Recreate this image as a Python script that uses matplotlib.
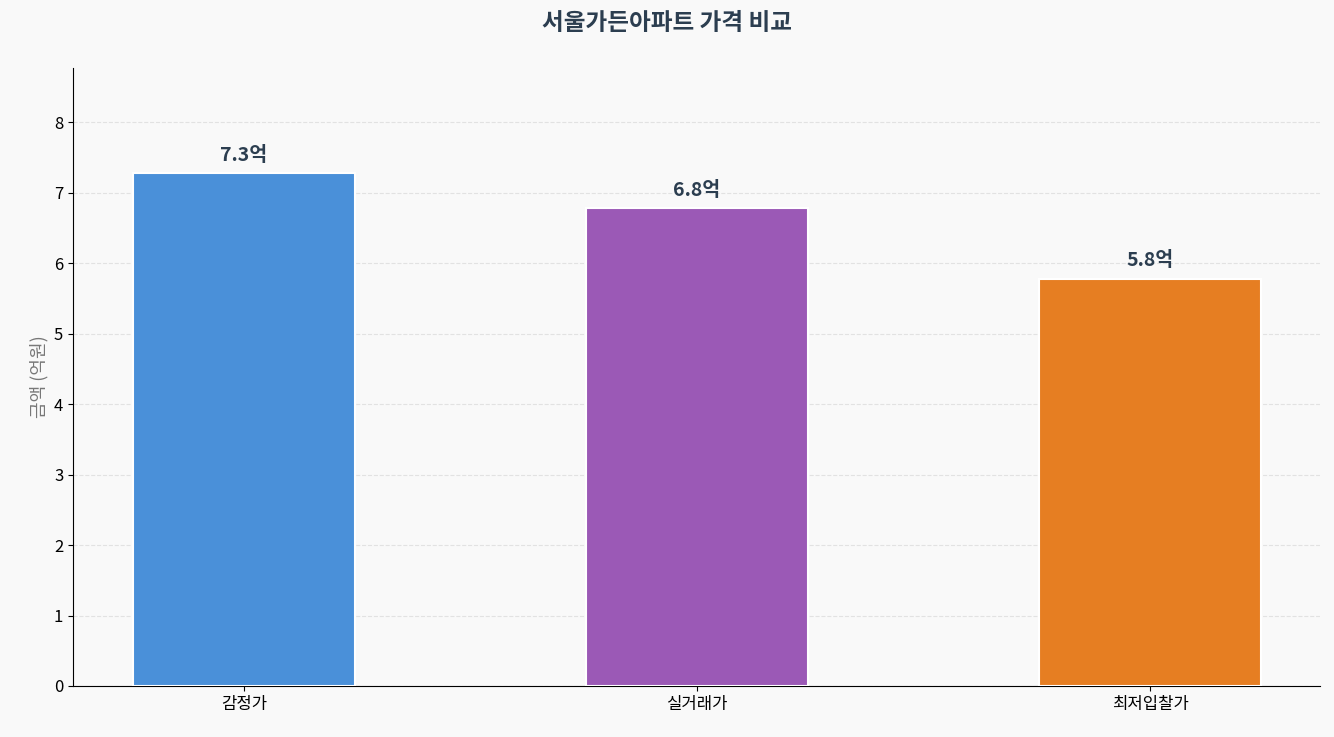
import matplotlib
matplotlib.use("Agg")
import matplotlib.pyplot as plt

plt.rcParams['font.family'] = ['Noto Sans CJK KR', 'DejaVu Sans']

categories = ['감정가', '실거래가', '최저입찰가']
values = [7.28, 6.78, 5.78]
labels = ['7.3억', '6.8억', '5.8억']
colors = ['#4A90D9', '#9B59B6', '#E67E22']

fig = plt.figure(figsize=(13.34, 7.37), dpi=100, facecolor='#F9F9F9')
ax = fig.add_axes([73/1334, 1-686/737, (1320-73)/1334, (686-68)/737])
ax.set_facecolor('#F9F9F9')
x = range(len(categories))
ax.bar(x, values, width=0.49, color=colors, edgecolor='white', linewidth=1.5, zorder=3)
for i, (v, l) in enumerate(zip(values, labels)):
    ax.text(i, v + 0.12, l, ha='center', va='bottom', fontsize=14, fontweight='bold', color='#2C3E50')
ax.set_xlim(-0.377, 2.375)
ax.set_ylim(0, 8.77)
ax.set_xticks(list(x))
ax.set_xticklabels(categories, fontsize=12)
ax.set_yticks(range(0, 9))
ax.tick_params(labelsize=12)
ax.set_ylabel('금액 (억원)', fontsize=13, color='#777777')
ax.grid(axis='y', linestyle='--', color='#DDDDDD', alpha=0.8, zorder=0)
ax.spines['top'].set_visible(False)
ax.spines['right'].set_visible(False)
fig.suptitle('서울가든아파트 가격 비교', fontsize=17, fontweight='bold', color='#2C3E50', y=0.985)
fig.savefig('out.png', dpi=100, facecolor=fig.get_facecolor())
